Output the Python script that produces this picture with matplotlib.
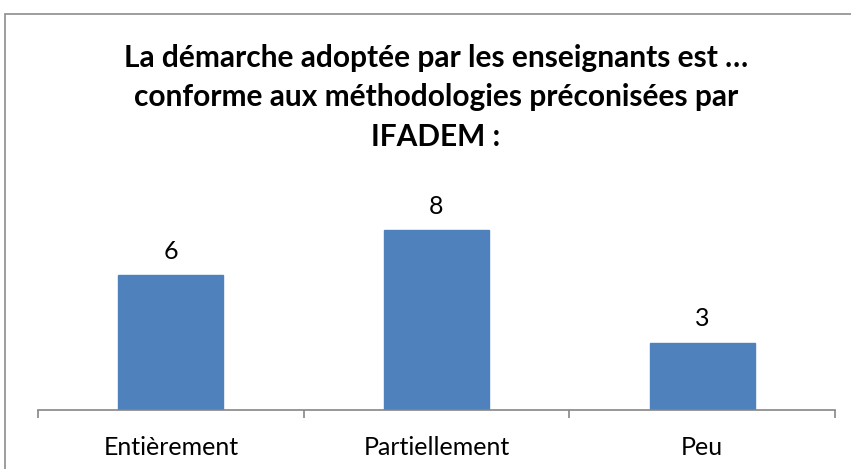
import matplotlib.pyplot as plt
from matplotlib.patches import Rectangle

categories = ["Entièrement", "Partiellement", "Peu"]
values = [6, 8, 3]
title = ("La démarche adoptée par les enseignants est …\n"
         "conforme aux méthodologies préconisées par\n"
         "IFADEM :")

W, H = 851, 469
plt.rcParams["font.family"] = ["Lato", "DejaVu Sans"]

fig = plt.figure(figsize=(W / 100, H / 100), dpi=100)

# chart frame, open on the right and bottom edges
fig.patches.append(Rectangle((5 / W, -0.2), 2, 1.2 - 14 / H, transform=fig.transFigure,
                             fill=False, edgecolor="#8c8c8c", linewidth=1.2))

ax = fig.add_axes([38 / W, (H - 410) / H, (835 - 38) / W, 225 / H])
x = range(len(categories))
bars = ax.bar(x, values, width=0.395, color="#4f81bd", edgecolor="#4f81bd")
ax.set_xlim(-0.5, len(categories) - 0.5)
ax.set_ylim(0, 10)

for b, v in zip(bars, values):
    ax.text(b.get_x() + b.get_width() / 2, v + 0.55, str(v),
            ha="center", va="bottom", fontsize=18)

for s in ["left", "right", "top"]:
    ax.spines[s].set_visible(False)
ax.spines["bottom"].set_color("#868686")
ax.spines["bottom"].set_linewidth(1.2)
ax.set_yticks([])
ax.set_xticks(list(x))
ax.set_xticklabels(categories, fontsize=18)
ax.tick_params(axis="x", which="major", length=0, pad=19)
ax.set_xticks([i - 0.5 for i in range(len(categories) + 1)], minor=True)
ax.tick_params(axis="x", which="minor", length=6, width=1.2, color="#868686")

fig.text(436 / W, 1 - 97 / H, title, ha="center", va="center",
         fontsize=21.5, fontweight="bold", linespacing=1.5)

fig.savefig("out.png", dpi=100)
